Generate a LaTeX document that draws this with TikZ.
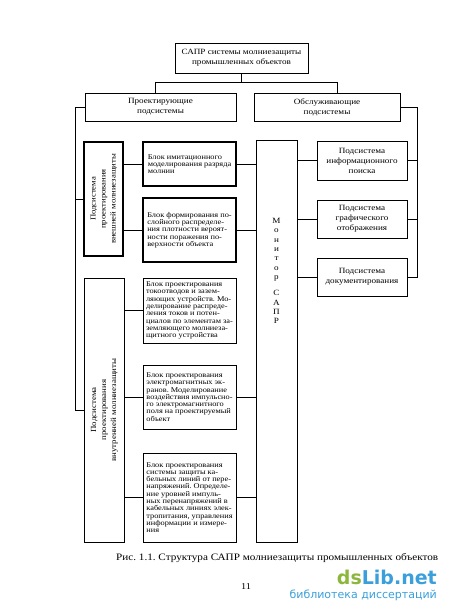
\documentclass[tikz,border=0pt]{standalone}
\usepackage{fontspec}
\usepackage{graphicx}
\setmainfont[FakeStretch=1.14]{Liberation Serif}
\newfontfamily\wmfont{DejaVu Sans}
\definecolor{wmgreen}{HTML}{8CB63C}
\definecolor{wmblue}{HTML}{3A9FDB}
\frenchspacing
\begin{document}
\begin{tikzpicture}[x=1pt,y=-1pt,
  box/.style={draw, line width=0.6pt, inner sep=0pt, align=center},
  boldbox/.style={box, line width=1.4pt},
  blk/.style={inner sep=0pt, align=left, font=\fontsize{7.3}{7.3}\selectfont},
  ctr/.style={font=\fontsize{8}{10}\selectfont},
  wire/.style={line width=0.6pt}]
\useasboundingbox (0,0) rectangle (450,615);
% top level
\node[box, ctr, minimum width=133pt, minimum height=30pt] (top) at (241.5,58)
  {САПР системы молниезащиты\\промышленных объектов};
\node[box, ctr, minimum width=151pt, minimum height=28pt] (pl) at (160.5,107)
  {Проектирующие\\подсистемы};
\node[box, ctr, minimum width=146pt, minimum height=28pt] (ps) at (327,107)
  {Обслуживающие\\подсистемы};
% subsystems of the design branch
\node[boldbox, minimum width=39pt, minimum height=114pt] (ext) at (103.5,199)
  {\rotatebox{90}{\fontsize{7.6}{10}\selectfont\begin{tabular}{@{}c@{}}Подсистема\\проектирования\\внешней молниезащиты\end{tabular}}};
\node[box, minimum width=40pt, minimum height=264pt] (inn) at (104,410)
  {\rotatebox{90}{\fontsize{7.8}{10}\selectfont\begin{tabular}{@{}c@{}}Подсистема\\проектирования\\внутренней молниезащиты\end{tabular}}};
% blocks
\node[boldbox, blk, minimum width=93pt, minimum height=44pt] (b1) at (189.5,164)
  {Блок имитационного\\моделирования разряда\\молнии};
\node[boldbox, blk, minimum width=93pt, minimum height=64pt] (b2) at (189.5,230)
  {Блок формирования по-\\слойного распределе-\\ния плотности вероят-\\ности поражения по-\\верхности объекта};
\node[box, blk, minimum width=93pt, minimum height=65pt] (b3) at (189.5,310.5)
  {Блок проектирования\\токоотводов и зазем-\\ляющих устройств. Мо-\\делирование распреде-\\ления токов и потен-\\циалов по элементам за-\\земляющего молниеза-\\щитного устройства};
\node[box, blk, minimum width=93pt, minimum height=64pt] (b4) at (189.5,397)
  {Блок проектирования\\электромагнитных эк-\\ранов. Моделирование\\воздействия импульсно-\\го электромагнитного\\поля на проектируемый\\объект};
\node[box, blk, minimum width=93pt, minimum height=89pt] (b5) at (189.5,497.5)
  {Блок проектирования\\системы защиты ка-\\бельных линий от пере-\\напряжений. Определе-\\ние уровней импуль-\\ных перенапряжений в\\кабельных линиях элек-\\тропитания, управления\\информации и измере-\\ния};
% monitor
\node[box, minimum width=41pt, minimum height=402pt] (mon) at (276.5,341) {};
\node[align=center, inner sep=0pt, font=\fontsize{8}{9.4}\selectfont] (montext) at (276.5,271)
  {М\\о\\н\\и\\т\\о\\р\\[6.6pt]С\\А\\П\\Р};
% service subsystems
\node[box, ctr, minimum width=90pt, minimum height=39pt] (r1) at (362,160.5)
  {Подсистема\\информационного\\поиска};
\node[box, ctr, minimum width=90pt, minimum height=38pt] (r2) at (362,219)
  {Подсистема\\графического\\отображения};
\node[box, ctr, minimum width=90pt, minimum height=38pt] (r3) at (362,277)
  {Подсистема\\документирования};
% junctions
\coordinate (jt) at (241.5,82);
\coordinate (jl) at (155,82);
\coordinate (jr) at (337,82);
\coordinate (ll) at (75,107);
\coordinate (rr) at (417,107);
% connectors
\draw[wire] (top.south) -- (jt);
\draw[wire] (jl) -- (jr);
\draw[wire] (jl) -- (jl |- pl.north);
\draw[wire] (jr) -- (jr |- ps.north);
\draw[wire] (pl.west) -- (ll) -- (ll |- inn.west) -- (inn.west);
\draw[wire] (ll |- ext.west) -- (ext.west);
\draw[wire] (ps.east) -- (rr) -- (rr |- r3.east) -- (r3.east);
\draw[wire] (rr |- r1.east) -- (r1.east);
\draw[wire] (rr |- r2.east) -- (r2.east);
\draw[wire] (b1.west -| ext.east) -- (b1.west);
\draw[wire] (b2.west -| ext.east) -- (b2.west);
\draw[wire] (b3.west -| inn.east) -- (b3.west);
\draw[wire] (b4.west -| inn.east) -- (b4.west);
\draw[wire] (b5.west -| inn.east) -- (b5.west);
\draw[wire] (b1.east) -- (b1.east -| mon.west);
\draw[wire] (b2.east) -- (b2.east -| mon.west);
\draw[wire] (b4.east) -- (b4.east -| mon.west);
\draw[wire] (b5.east) -- (b5.east -| mon.west);
\draw[wire] (r1.west -| mon.east) -- (r1.west);
\draw[wire] (r2.west -| mon.east) -- (r2.west);
\draw[wire] (r3.west -| mon.east) -- (r3.west);
% caption and page
\node[anchor=west, inner sep=0pt, font=\fontsize{9.8}{12}\selectfont] (cap) at (116,558)
  {Рис. 1.1. Структура САПР молниезащиты промышленных объектов};
\node[inner sep=0pt, font=\fontsize{9}{10}\selectfont] (pg) at (246,587) {11};
% watermark
\node[anchor=east, inner sep=0pt, font=\wmfont\bfseries\fontsize{19}{20}\selectfont] (wm) at (437,577)
  {\textcolor{wmgreen}{ds}\textcolor{wmblue}{Lib.net}};
\node[anchor=east, inner sep=0pt, text=wmblue, font=\wmfont\fontsize{11}{12}\selectfont] (wm2) at (437,595)
  {библиотека диссертаций};
\end{tikzpicture}
\end{document}
